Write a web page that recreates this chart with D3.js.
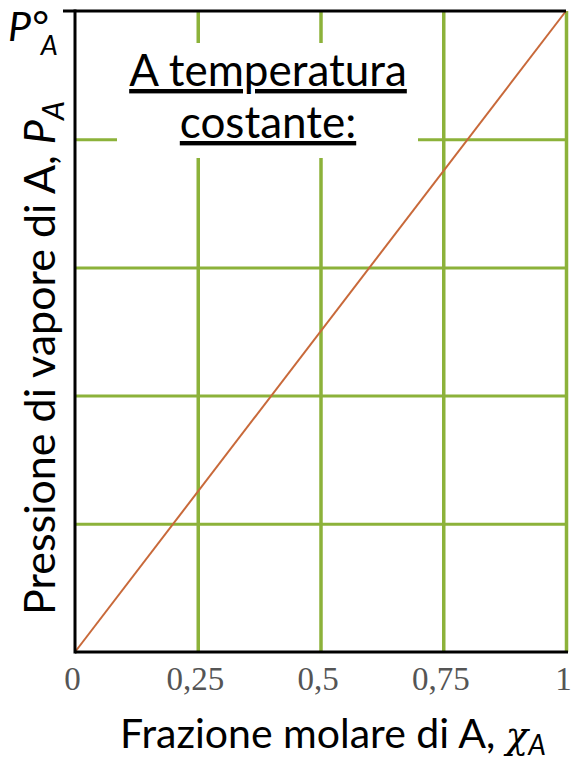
<!DOCTYPE html>
<html>
<head>
<meta charset="utf-8">
<script src="https://cdn.jsdelivr.net/npm/d3@7"></script>
<style>
  body { margin: 0; background: #fff; }
  svg { display: block; }
</style>
</head>
<body>
<div id="chart"></div>
<script>
// dati: frazione molare e pressione (retta di Raoult)
const frazione = [0, 1];
const pressione = [0, 1];
const tickX = [0, 0.25, 0.5, 0.75, 1];
const tickXLabel = ["0", "0,25", "0,5", "0,75", "1"];
const gridY = [0.2, 0.4, 0.6, 0.8];

const W = 575, H = 763;
const margin = { top: 11, right: 9, bottom: 111, left: 75 };

const svg = d3.select("#chart").append("svg")
    .attr("width", W)
    .attr("height", H);

const x = d3.scaleLinear().domain([0, 1]).range([margin.left, W - margin.right]);
const y = d3.scaleLinear().domain([0, 1]).range([H - margin.bottom, margin.top]);

const green = "#8cb23a";

// griglia verticale
svg.append("g")
    .attr("transform", `translate(0,${y(0)})`)
    .call(d3.axisBottom(x).tickValues(tickX.slice(1)).tickSize(-(y(0) - y(1))).tickFormat(""))
    .call(g => g.select(".domain").remove())
    .selectAll("line")
    .attr("stroke", green)
    .attr("stroke-width", 3.5);

// griglia orizzontale
svg.append("g")
    .attr("transform", `translate(${x(0)},0)`)
    .call(d3.axisLeft(y).tickValues(gridY).tickSize(-(x(1) - x(0))).tickFormat(""))
    .call(g => g.select(".domain").remove())
    .selectAll("line")
    .attr("stroke", green)
    .attr("stroke-width", 3);

// riquadro bianco dietro al testo
svg.append("rect")
    .attr("x", 117).attr("y", 43)
    .attr("width", 301).attr("height", 115)
    .attr("fill", "#fff");

// retta
const line = d3.line().x((d, i) => x(d)).y((d, i) => y(pressione[i]));
svg.append("path")
    .datum(frazione)
    .attr("d", line)
    .attr("fill", "none")
    .attr("stroke", "#c8693a")
    .attr("stroke-width", 2);

// assi neri
svg.append("line")
    .attr("x1", x(0)).attr("x2", x(0))
    .attr("y1", y(1) - 1.5).attr("y2", y(0) + 1.5)
    .attr("stroke", "#000").attr("stroke-width", 3);
svg.append("line")
    .attr("x1", 63).attr("x2", x(1))
    .attr("y1", y(1)).attr("y2", y(1))
    .attr("stroke", "#000").attr("stroke-width", 3);
svg.append("line")
    .attr("x1", x(0)).attr("x2", x(1) + 2)
    .attr("y1", y(0)).attr("y2", y(0))
    .attr("stroke", "#000").attr("stroke-width", 3);

// etichette asse x
svg.append("g")
    .attr("transform", `translate(0,${y(0) + 12})`)
    .call(d3.axisBottom(x).tickValues(tickX).tickSize(0).tickFormat((d, i) => tickXLabel[i]))
    .call(g => g.select(".domain").remove())
    .selectAll("text")
    .attr("fill", "#555")
    .attr("dx", -3)
    .style("font-family", "'Liberation Serif', 'DejaVu Serif', serif")
    .style("font-size", "33px");

const sans = "Lato, 'Open Sans', sans-serif";

// titolo asse x
const tx = svg.append("text")
    .attr("x", 333).attr("y", 748)
    .attr("text-anchor", "middle")
    .style("font-family", sans)
    .style("font-size", "41px")
    .attr("fill", "#000");
tx.append("tspan").text("Frazione molare di A, ");
tx.append("tspan").attr("font-style", "italic").attr("font-family", "'DejaVu Serif', serif").attr("font-size", "37px").text("χ");
tx.append("tspan").attr("font-style", "italic").attr("font-size", "28px").attr("dy", 7).text("A");

// titolo asse y
const ty = svg.append("text")
    .attr("transform", `translate(55,358) rotate(-90)`)
    .attr("text-anchor", "middle")
    .style("font-family", sans)
    .style("font-size", "43px")
    .attr("fill", "#000");
ty.append("tspan").text("Pressione di vapore di A, ");
ty.append("tspan").attr("font-style", "italic").text("P");
ty.append("tspan").attr("font-style", "italic").attr("font-size", "30px").attr("dy", 9).text("A");

// P°A in alto
const tp = svg.append("text")
    .attr("x", 8).attr("y", 41)
    .style("font-family", sans)
    .style("font-size", "41px")
    .attr("fill", "#000");
tp.append("tspan").attr("font-style", "italic").text("P°");
tp.append("tspan").attr("font-style", "italic").attr("font-size", "27px").attr("dy", 14).attr("dx", -7).text("A");

// testo "A temperatura costante:"
const note = ["A temperatura", "costante:"];
svg.selectAll(".note")
    .data(note)
    .enter()
    .append("text")
    .attr("class", "note")
    .attr("x", 268)
    .attr("y", (d, i) => 86 + i * 52)
    .attr("text-anchor", "middle")
    .style("font-family", sans)
    .style("font-size", "44px")
    .style("text-decoration", "underline")
    .attr("fill", "#000")
    .text(d => d);
</script>
</body>
</html>
